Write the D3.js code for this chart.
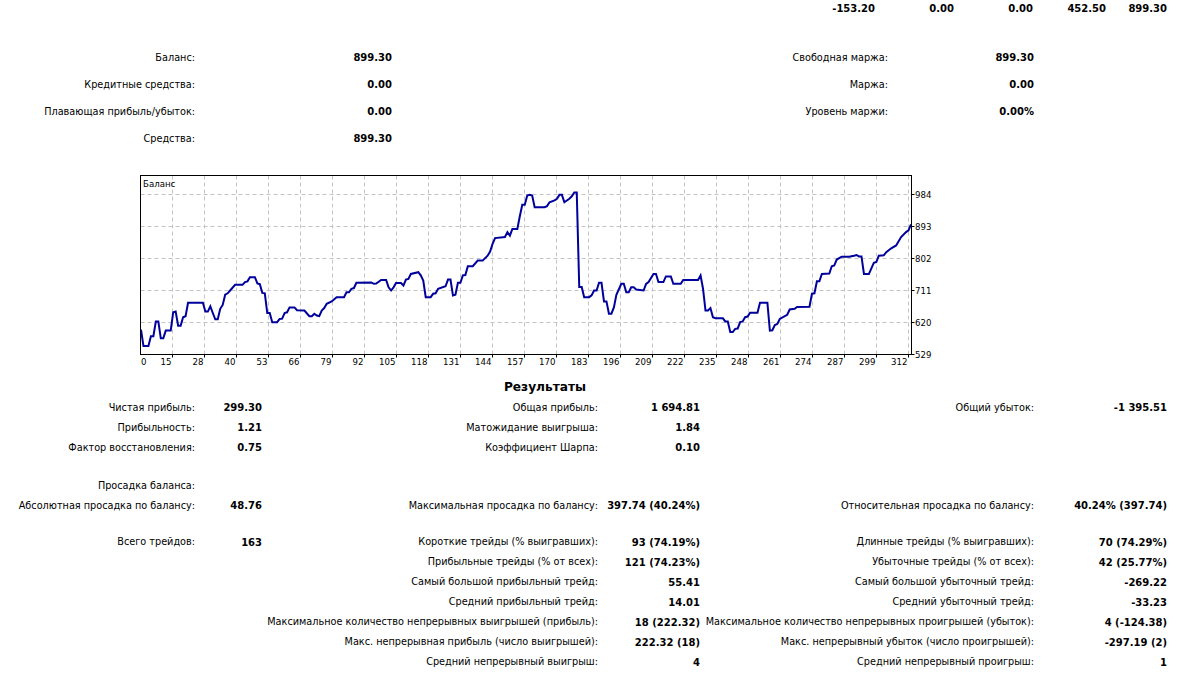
<!DOCTYPE html>
<html><head><meta charset="utf-8">
<script src="https://cdn.jsdelivr.net/npm/d3@7"></script>
<style>
body{margin:0;background:#fff;}
svg text{font-family:"DejaVu Sans",sans-serif;fill:#000;}
</style>
</head><body>
<svg id="c" width="1193" height="677"></svg>
<script>
// ---------------- DATA ----------------
const topValues = ["-153.20", "0.00", "0.00", "452.50", "899.30"];

const accountLabelsLeft  = ["Баланс:", "Кредитные средства:", "Плавающая прибыль/убыток:", "Средства:"];
const accountValuesLeft  = ["899.30", "0.00", "0.00", "899.30"];
const accountLabelsRight = ["Свободная маржа:", "Маржа:", "Уровень маржи:"];
const accountValuesRight = ["899.30", "0.00", "0.00%"];

const chartTitle = "Баланс";
const resultsTitle = "Результаты";

const yTickValues = [529, 620, 711, 802, 893, 984];
const xTickLabels = ["0","15","28","40","53","66","79","92","105","118","131","144","157","170","183","196","209","222","235","248","261","274","287","299","312"];

// balance curve: trade index / balance
const balanceIdx = [0,1,3,4,5,6,7,8,9,10,12,13,14,15,16,17,18,19,25,26,27,28,29,30,31,32,33,34,35,36,38,41,42,43,44,46,47,48,49,50,51,52,53,55,56,57,58,59,60,62,63,66,68,69,70,71,72,73,74,75,77,79,82,83,84,85,86,87,93,94,95,97,99,100,101,102,103,105,106,107,108,109,112,113,114,115,117,118,119,120,123,124,125,126,127,128,129,130,131,132,134,136,138,140,141,142,143,147,148,149,150,152,153,154,155,156,157,158,159,163,164,165,167,168,169,170,171,173,174,175,176,177,178,179,181,182,183,184,185,186,187,188,189,190,191,192,194,195,196,197,198,199,200,203,204,205,207,208,209,211,212,214,215,218,219,225,226,227,228,229,230,231,232,235,236,237,238,239,240,241,242,243,244,245,246,249,250,253,254,255,256,257,258,261,262,264,265,270,271,272,273,274,275,278,279,280,281,283,286,288,289,290,291,292,294,296,297,298,300,301,303,305,307,309,310,311];
const balanceVal = [600,553,553,581,581,623,623,575,575,597,597,649,651,611,611,635,638,676,676,651,651,666,647,629,629,659,670,699,703,711,727,727,735,737,749,749,731,729,704,703,647,647,621,621,630,631,647,649,663,663,655,654,638,638,645,640,638,654,661,673,680,692,692,706,706,716,718,733,734,730,731,741,741,720,711,720,732,732,725,742,744,758,763,754,739,692,692,702,703,716,723,742,742,697,699,733,733,754,755,780,780,796,796,810,822,844,860,863,877,867,886,886,922,955,955,981,983,981,948,948,951,962,967,972,983,983,962,972,979,990,990,721,721,692,692,697,711,711,733,733,680,680,645,645,663,699,730,730,706,706,720,720,714,711,730,735,758,758,735,735,751,751,730,730,741,741,754,716,654,654,661,635,632,632,623,623,593,593,602,603,621,623,635,637,648,648,676,676,597,598,613,616,630,642,657,659,664,665,702,703,737,737,758,759,780,782,799,807,807,810,812,808,808,758,758,790,792,810,811,820,831,839,863,877,882,899.3];

const resLeftLabels  = ["Чистая прибыль:", "Прибыльность:", "Фактор восстановления:", null, "Просадка баланса:", "Абсолютная просадка по балансу:", null, "Всего трейдов:"];
const resLeftValues  = ["299.30", "1.21", "0.75", null, "", "48.76", null, "163"];
const resMidLabels   = ["Общая прибыль:", "Матожидание выигрыша:", "Коэффициент Шарпа:", null, "", "Максимальная просадка по балансу:", null,
  "Короткие трейды (% выигравших):", "Прибыльные трейды (% от всех):", "Самый большой прибыльный трейд:", "Средний прибыльный трейд:",
  "Максимальное количество непрерывных выигрышей (прибыль):", "Макс. непрерывная прибыль (число выигрышей):", "Средний непрерывный выигрыш:"];
const resMidValues   = ["1 694.81", "1.84", "0.10", null, "", "397.74 (40.24%)", null,
  "93 (74.19%)", "121 (74.23%)", "55.41", "14.01", "18 (222.32)", "222.32 (18)", "4"];
const resRightLabels = ["Общий убыток:", "", "", null, "", "Относительная просадка по балансу:", null,
  "Длинные трейды (% выигравших):", "Убыточные трейды (% от всех):", "Самый большой убыточный трейд:", "Средний убыточный трейд:",
  "Максимальное количество непрерывных проигрышей (убыток):", "Макс. непрерывный убыток (число проигрышей):", "Средний непрерывный проигрыш:"];
const resRightValues = ["-1 395.51", "", "", null, "", "40.24% (397.74)", null,
  "70 (74.29%)", "42 (25.77%)", "-269.22", "-33.23", "4 (-124.38)", "-297.19 (2)", "1"];

// ---------------- LAYOUT ----------------
const svg = d3.select("#c");
svg.append("rect").attr("width",1193).attr("height",677).attr("fill","#fff");

const LBL = 9.7, VAL = 10;
function txt(x, y, s, anchor, bold, size){
  if (s === null || s === "") return;
  svg.append("text").attr("x",x).attr("y",y).attr("dy","0.38em")
    .attr("text-anchor",anchor).attr("font-size",size||LBL)
    .attr("font-weight",bold?"bold":"normal").text(s);
}

// top row
const topRight = [875, 954, 1033, 1106, 1167];
topValues.forEach((v,i)=>txt(topRight[i], 8, v, "end", true, VAL));

// account block
const accY = d3.scaleLinear().domain([0,1]).range([57,84]);
accountLabelsLeft.forEach((l,i)=>txt(195, accY(i), l, "end", false));
accountValuesLeft.forEach((v,i)=>txt(392, accY(i), v, "end", true, VAL));
accountLabelsRight.forEach((l,i)=>txt(888, accY(i), l, "end", false));
accountValuesRight.forEach((v,i)=>txt(1034, accY(i), v, "end", true, VAL));

// ---------------- CHART ----------------
const P = {l:140.5, t:175.5, r:911.5, b:354.5};
const x = d3.scaleLinear().domain([0, 311]).range([141, 911]);
const y = d3.scaleLinear().domain([529, 984]).range([P.b, 194.5]);
const grid = d3.scaleLinear().domain([0, xTickLabels.length - 1]).range([P.l, 908.5]);

const g = svg.append("g");
// horizontal grid
g.selectAll(".hg").data(yTickValues.slice(1)).enter().append("line")
  .attr("x1",P.l).attr("x2",P.r).attr("y1",d=>y(d)).attr("y2",d=>y(d))
  .attr("stroke","#c4c4c4").attr("stroke-dasharray","4,3");
// vertical grid
g.selectAll(".vg").data(d3.range(1, xTickLabels.length)).enter().append("line")
  .attr("x1",d=>grid(d)).attr("x2",d=>grid(d)).attr("y1",P.t).attr("y2",P.b)
  .attr("stroke","#c4c4c4").attr("stroke-dasharray","4,3");

// balance line
const pts = balanceIdx.map((d,i)=>[d, balanceVal[i]]);
g.append("path").datum(pts)
  .attr("d", d3.line().x(d=>x(d[0])).y(d=>y(d[1])))
  .attr("fill","none").attr("stroke","#00009c").attr("stroke-width",2).attr("stroke-linejoin","miter");

// frame
g.append("rect").attr("x",P.l).attr("y",P.t).attr("width",P.r-P.l).attr("height",P.b-P.t)
  .attr("fill","none").attr("stroke","#000").attr("stroke-width",1);

// right axis ticks & labels
g.selectAll(".yt").data(yTickValues).enter().append("line")
  .attr("x1",P.r).attr("x2",P.r+3).attr("y1",d=>y(d)).attr("y2",d=>y(d)).attr("stroke","#000");
yTickValues.forEach(v=>txt(915, y(v), String(v), "start", false, 8.6));

// bottom ticks & labels
g.selectAll(".xt").data(d3.range(1, xTickLabels.length)).enter().append("line")
  .attr("x1",d=>grid(d)).attr("x2",d=>grid(d)).attr("y1",P.b).attr("y2",P.b+3).attr("stroke","#000");
xTickLabels.forEach((l,k)=>{
  if (k===0) txt(141, 362, l, "start", false, 8.6);
  else txt(grid(k)-1, 362, l, "end", false, 8.6);
});

txt(143, 184, chartTitle, "start", false, 8.6);

// ---------------- RESULTS ----------------
txt(545, 386, resultsTitle, "middle", true, 12.2);
const rowY = [407.5, 427.5, 447.5, null, 485, 505, null, 541.7, 561.7, 581.7, 601.7, 621.7, 641.7, 661.7];
function col(labels, values, lx, vx){
  labels.forEach((l,i)=>{ if (rowY[i]!==null) txt(lx, rowY[i], l, "end", false); });
  values.forEach((v,i)=>{ if (rowY[i]!==null) txt(vx, rowY[i], v, "end", true, VAL); });
}
col(resLeftLabels, resLeftValues, 195, 262);
col(resMidLabels, resMidValues, 598, 700);
col(resRightLabels, resRightValues, 1034, 1167);
</script>
</body></html>
